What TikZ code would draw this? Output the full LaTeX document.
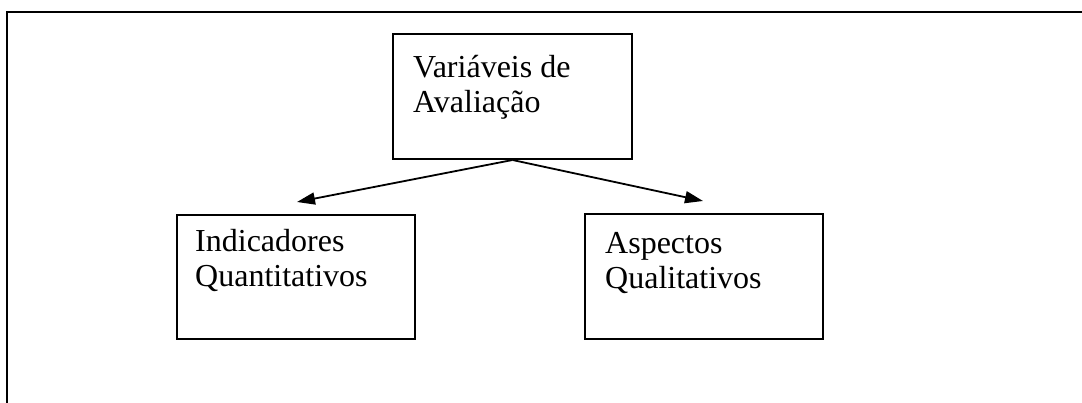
\documentclass[tikz,border=0pt]{standalone}
\usepackage{fontspec}
\setmainfont{Liberation Serif}
\usetikzlibrary{arrows.meta}
\tikzset{
  boxnode/.style={draw, line width=2pt, inner sep=0pt, anchor=north west},
  lbl/.style={anchor=base west, inner sep=0pt, align=left, font=\fontsize{32}{35}\selectfont},
  conn/.style={line width=1.8pt, -{Triangle[length=18pt,width=12pt]}},
  frame/.style={line width=2.6pt}
}
\begin{document}
\begin{tikzpicture}[x=1pt,y=-1pt]
\useasboundingbox (0,0) rectangle (1082,403);
\coordinate (fl) at (7,403);
\coordinate (fc) at (7,12);
\coordinate (fr) at (1082,12);
\draw[frame] (fl) -- (fc) -- (fr);
\node[boxnode, minimum width=239pt, minimum height=125pt] (top) at (392,33) {};
\node[boxnode, minimum width=238pt, minimum height=124pt] (left) at (176,214) {};
\node[boxnode, minimum width=238pt, minimum height=125pt] (right) at (584,213) {};
\node[lbl] (ttop) at (413,113) {Variáveis de\\Avaliação};
\node[lbl] (tleft) at (195,287) {Indicadores\\Quantitativos};
\node[lbl] (tright) at (605,289) {Aspectos\\Qualitativos};
\coordinate (tipl) at (297,202);
\coordinate (tipr) at (703,201);
\draw[conn] (top.south) -- (tipl);
\draw[conn] (top.south) -- (tipr);
\end{tikzpicture}
\end{document}
